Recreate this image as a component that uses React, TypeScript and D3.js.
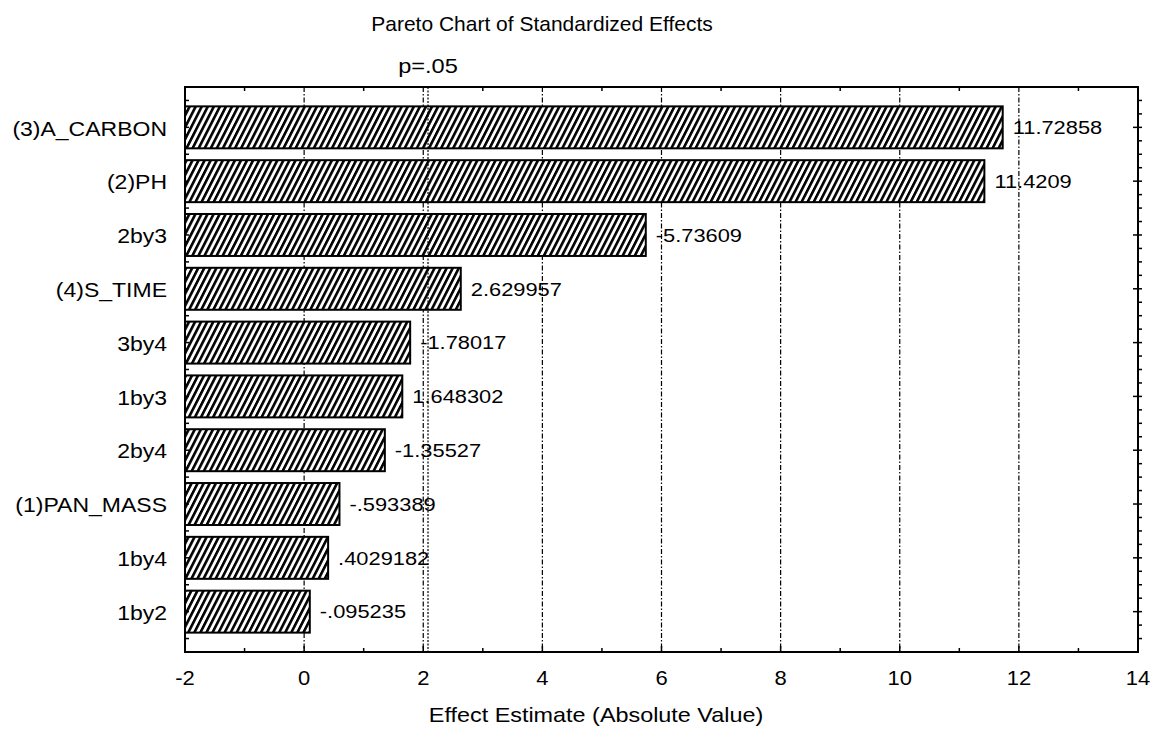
import React from "react";
import * as d3 from "d3";

const categories = ["(3)A_CARBON", "(2)PH", "2by3", "(4)S_TIME", "3by4", "1by3", "2by4", "(1)PAN_MASS", "1by4", "1by2"];
const effects = [11.72858, 11.4209, -5.73609, 2.629957, -1.78017, 1.648302, -1.35527, -0.593389, 0.4029182, -0.095235];
const effectLabels = ["11.72858", "11.4209", "-5.73609", "2.629957", "-1.78017", "1.648302", "-1.35527", "-.593389", ".4029182", "-.095235"];
const xTicks = [-2, 0, 2, 4, 6, 8, 10, 12, 14];
const gridValues = [0, 2, 4, 6, 8, 10, 12];
const minorX = [-1, 1, 3, 5, 7, 9, 11, 13];
const pValue = 2.08;
const title = "Pareto Chart of Standardized Effects";
const xTitle = "Effect Estimate (Absolute Value)";
const pLabel = "p=.05";

const W = 1153, H = 731;
const L = 185, R = 1138, T = 87, B = 652;
const FONT = "'Liberation Sans', Arial, Helvetica, sans-serif";

function SText({ x, y, sx, size, anchor, children }: { x: number; y: number; sx: number; size: number; anchor?: string; children: React.ReactNode }) {
  return (
    <text transform={`translate(${x},${y}) scale(${sx},1)`} dy="0.36em" fontSize={size} textAnchor={anchor || "start"}>
      {children}
    </text>
  );
}

export default function App() {
  const x = d3.scaleLinear().domain([-2, 14]).range([L, R]);
  const y = d3.scaleLinear().domain([0.25, categories.length + 0.75]).range([T, B]);
  const barH = (y(1) - y(0)) * 0.78;
  const quarter: number[] = [];
  for (let v = 0.5; v <= categories.length + 0.5; v += 0.25) quarter.push(v);
  const halves: number[] = [];
  for (let v = 0.5; v <= categories.length + 0.5; v += 0.5) halves.push(v);

  return (
    <svg width={W} height={H} style={{ position: "absolute", left: 0, top: 0, background: "#fff" }} fontFamily={FONT}>
      <defs>
        <pattern id="hatch" patternUnits="userSpaceOnUse" width={5.4} height={10} patternTransform="rotate(27)">
          <rect x={0} y={0} width={5.4} height={10} fill="#fff" />
          <rect x={0} y={0} width={2.6} height={10} fill="#000" />
        </pattern>
      </defs>
      <rect x={0} y={0} width={W} height={H} fill="#fff" />
      {gridValues.map((g) => (
        <line key={"g" + g} x1={x(g)} x2={x(g)} y1={T} y2={B} stroke="#000" strokeWidth={1.2} strokeDasharray="5,2,1.5,2" />
      ))}
      {effects.map((e, i) => {
        const v = Math.abs(e);
        const cy = y(i + 1);
        return (
          <g key={"b" + i}>
            <rect x={L} y={cy - barH / 2} width={x(v) - L} height={barH} fill="url(#hatch)" stroke="#000" strokeWidth={2} />
            <SText x={x(v) + 10} y={cy} sx={1.15} size={19}>{effectLabels[i]}</SText>
            <SText x={167} y={cy + 1} sx={1.15} size={20} anchor="end">{categories[i]}</SText>
          </g>
        );
      })}
      <line x1={x(pValue)} x2={x(pValue)} y1={T} y2={B} stroke="#000" strokeWidth={1.2} strokeDasharray="2,1.5" />
      <SText x={428} y={66} sx={1.18} size={20} anchor="middle">{pLabel}</SText>
      <rect x={L} y={T} width={R - L} height={B - T} fill="none" stroke="#000" strokeWidth={2} />
      {minorX.map((m) => (
        <g key={"m" + m}>
          <line x1={x(m)} x2={x(m)} y1={T} y2={T + 4} stroke="#000" strokeWidth={1.5} />
          <line x1={x(m)} x2={x(m)} y1={B} y2={B - 4} stroke="#000" strokeWidth={1.5} />
        </g>
      ))}
      {xTicks.map((t) => (
        <g key={"t" + t}>
          <line x1={x(t)} x2={x(t)} y1={B} y2={B - 6} stroke="#000" strokeWidth={1.5} />
          <SText x={x(t)} y={678} sx={1.1} size={20} anchor="middle">{t}</SText>
        </g>
      ))}
      {quarter.map((q) => {
        const major = Math.abs(q - Math.round(q)) < 1e-6;
        return (
          <line key={"r" + q} x1={major ? R - 5 : R - 1} x2={R + 4} y1={y(q)} y2={y(q)} stroke="#000" strokeWidth={1.5} />
        );
      })}
      {halves.map((h) => (
        <line key={"l" + h} x1={L} x2={L + 4} y1={y(h)} y2={y(h)} stroke="#000" strokeWidth={1.5} />
      ))}
      <SText x={542} y={24} sx={1.05} size={20} anchor="middle">{title}</SText>
      <SText x={596} y={715} sx={1.17} size={20} anchor="middle">{xTitle}</SText>
    </svg>
  );
}
